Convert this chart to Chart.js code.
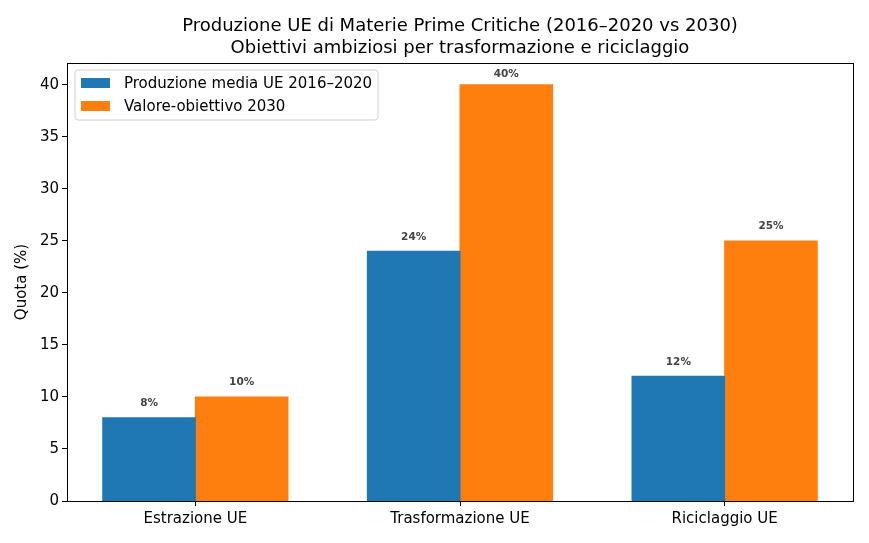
<!DOCTYPE html>
<html>
<head>
<meta charset="utf-8">
<script src="https://cdn.jsdelivr.net/npm/chart.js@4.4.1/dist/chart.umd.min.js"></script>
<style>
  html, body { margin: 0; padding: 0; background: #fff; }
  #wrap { width: 869px; height: 543px; }
</style>
</head>
<body>
<div id="wrap"><canvas id="chart"></canvas></div>
<script>
// data
const categories = ['Estrazione UE', 'Trasformazione UE', 'Riciclaggio UE'];
const produzione = [8, 24, 12];
const obiettivo  = [10, 40, 25];
const seriesNames = ['Produzione media UE 2016–2020', 'Valore-obiettivo 2030'];
const titleLines = ['Produzione UE di Materie Prime Critiche (2016–2020 vs 2030)',
                    'Obiettivi ambiziosi per trasformazione e riciclaggio'];

const BLUE = '#1f77b4';
const ORANGE = '#ff7f0e';
const FONT = '"DejaVu Sans", sans-serif';

// frame, title, bar labels and legend in matplotlib style
const mplDecor = {
  id: 'mplDecor',
  afterDatasetsDraw(chart) {
    const { ctx, chartArea: a } = chart;
    ctx.save();

    // value labels (kept inside the frame near the top)
    ctx.font = 'bold 10.5px ' + FONT;
    ctx.fillStyle = '#444';
    ctx.textAlign = 'center';
    ctx.textBaseline = 'bottom';
    chart.data.datasets.forEach((ds, i) => {
      chart.getDatasetMeta(i).data.forEach((bar, j) => {
        const y = Math.max(bar.y - 9, a.top + 17);
        ctx.fillText(ds.data[j].y + '%', bar.x, y);
      });
    });

    // axes frame
    ctx.strokeStyle = '#000';
    ctx.lineWidth = 1;
    ctx.strokeRect(a.left + 0.5, a.top + 0.5, a.right - a.left, a.bottom - a.top);

    // title
    ctx.fillStyle = '#000';
    ctx.font = '18px ' + FONT;
    ctx.textBaseline = 'alphabetic';
    const cx = (a.left + a.right) / 2;
    ctx.fillText(titleLines[0], cx, 31);
    ctx.fillText(titleLines[1], cx, 53);

    // legend
    const lx = a.left + 8, ly = a.top + 7;
    ctx.fillStyle = 'rgba(255,255,255,0.8)';
    ctx.strokeStyle = '#d0d0d0';
    ctx.beginPath();
    ctx.roundRect(lx, ly, 303, 50, 3);
    ctx.fill();
    ctx.stroke();
    const colors = [BLUE, ORANGE];
    ctx.font = '15px ' + FONT;
    ctx.textAlign = 'left';
    ctx.textBaseline = 'middle';
    seriesNames.forEach((name, i) => {
      const y = ly + 13 + i * 23;
      ctx.fillStyle = colors[i];
      ctx.fillRect(lx + 6, y - 5, 29, 10);
      ctx.fillStyle = '#000';
      ctx.fillText(name, lx + 49, y + 1);
    });

    ctx.restore();
  }
};

const toPoints = vals => vals.map((v, i) => ({ x: i, y: v }));

new Chart(document.getElementById('chart'), {
  type: 'bar',
  data: {
    datasets: [
      { label: seriesNames[0], data: toPoints(produzione), backgroundColor: BLUE, borderWidth: 0, inflateAmount: 0.5 },
      { label: seriesNames[1], data: toPoints(obiettivo),  backgroundColor: ORANGE, borderWidth: 0, inflateAmount: 0.5 }
    ]
  },
  options: {
    responsive: true,
    maintainAspectRatio: false,
    animation: false,
    devicePixelRatio: 1,
    layout: { padding: { top: 63, right: 16, left: 0, bottom: 0 } },
    datasets: { bar: { categoryPercentage: 0.7, barPercentage: 1.0 } },
    plugins: {
      legend: { display: false },
      tooltip: { enabled: false }
    },
    scales: {
      x: {
        type: 'linear',
        min: -0.485,
        max: 2.485,
        offset: false,
        afterFit: s => { s.height = 42; },
        afterBuildTicks: s => { s.ticks = categories.map((c, i) => ({ value: i })); },
        grid: { drawOnChartArea: false, offset: false, tickLength: 5, color: '#000' },
        border: { display: false },
        ticks: { color: '#000', font: { family: FONT, size: 15 }, padding: 4, callback: v => categories[v] }
      },
      y: {
        min: 0,
        max: 42.1,
        afterFit: s => { s.width = 67; },
        grid: { drawOnChartArea: false, tickLength: 5, color: '#000' },
        border: { display: false },
        ticks: { stepSize: 5, color: '#000', font: { family: FONT, size: 15 }, padding: 3 },
        afterBuildTicks: s => { s.ticks = s.ticks.filter(t => t.value % 5 === 0); },
        title: { display: true, text: 'Quota (%)', color: '#000', font: { family: FONT, size: 15 }, padding: { top: 13, bottom: 4 } }
      }
    }
  },
  plugins: [mplDecor]
});
</script>
</body>
</html>
